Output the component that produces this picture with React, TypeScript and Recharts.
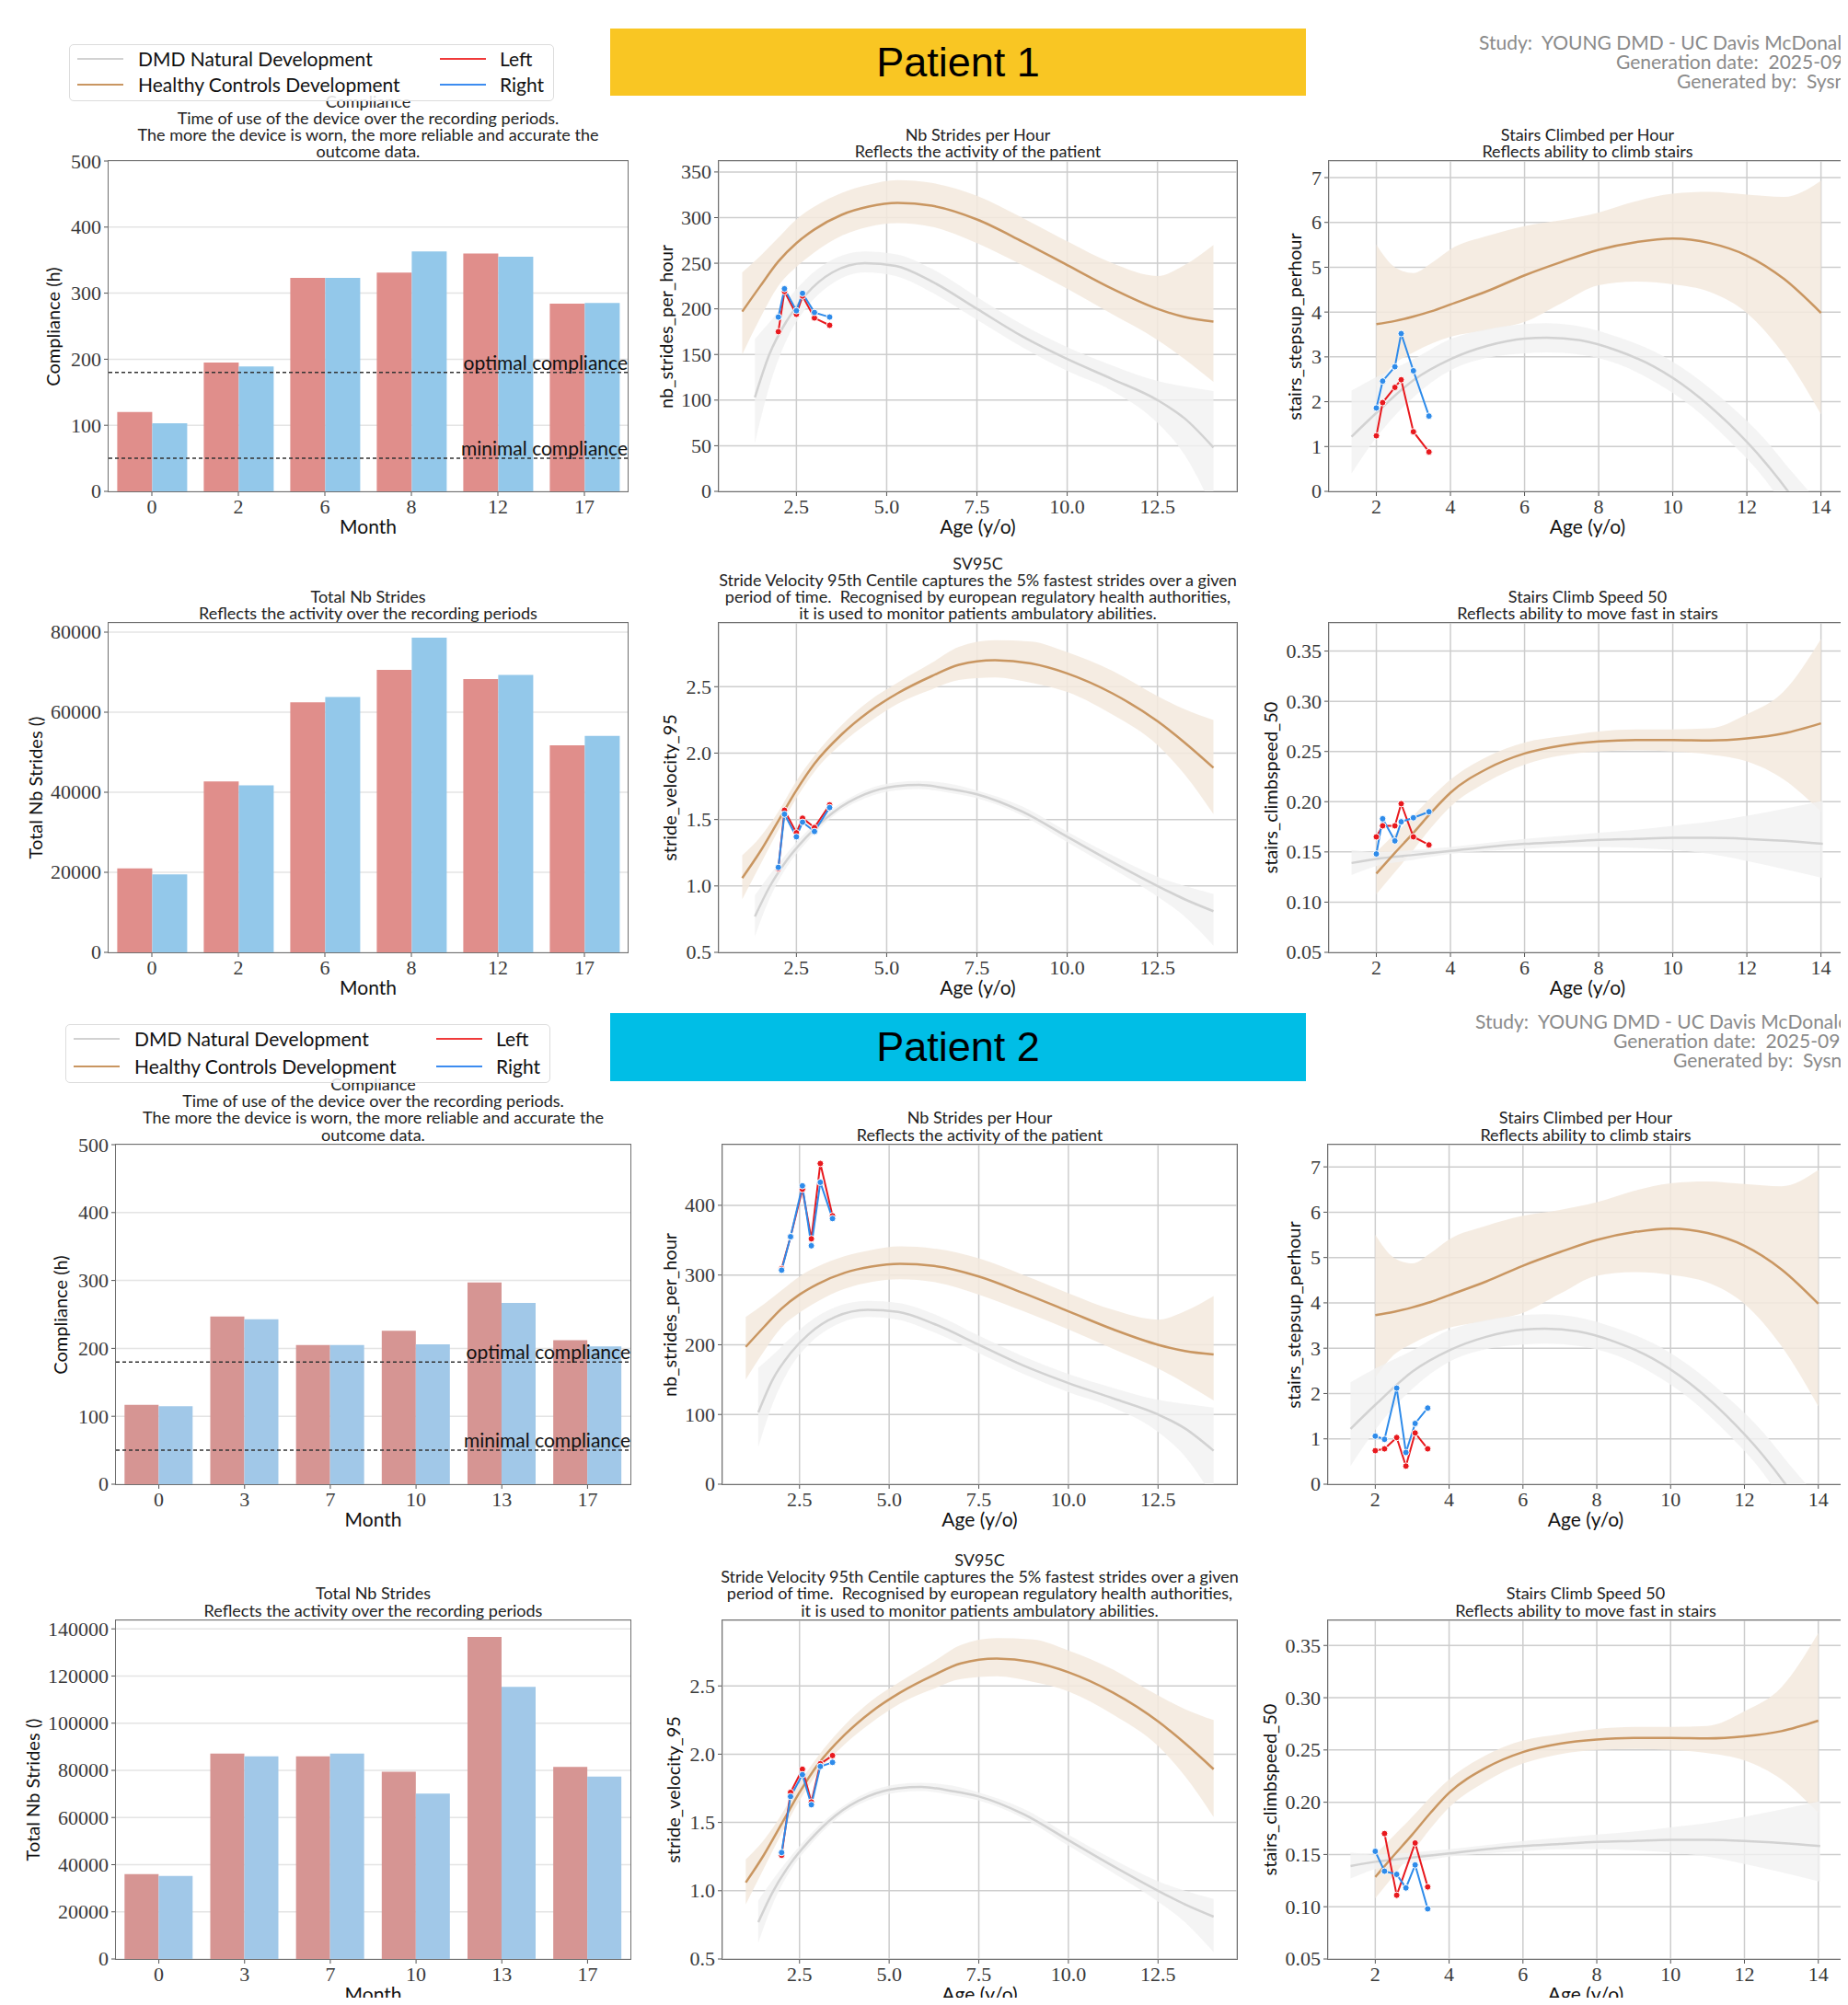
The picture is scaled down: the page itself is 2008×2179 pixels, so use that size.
import {
  BarChart, Bar, ComposedChart, Area, Line, XAxis, YAxis,
  CartesianGrid, ReferenceLine,
} from 'recharts';

const SANS = 'Lato, "Noto Sans", sans-serif';
const SERIF = '"Liberation Serif", "DejaVu Serif", serif';

// ---------------- bar data ----------------
const MONTHS_P1 = ['0', '2', '6', '8', '12', '17'];
const COMPLIANCE_P1_LEFT = [120, 195, 323, 331, 360, 284];
const COMPLIANCE_P1_RIGHT = [103, 189, 323, 363, 355, 285];
const STRIDES_P1_LEFT = [21000, 42700, 62500, 70600, 68300, 51700];
const STRIDES_P1_RIGHT = [19500, 41700, 63800, 78600, 69300, 54100];

const MONTHS_P2 = ['0', '3', '7', '10', '13', '17'];
const COMPLIANCE_P2_LEFT = [117, 247, 205, 226, 297, 212];
const COMPLIANCE_P2_RIGHT = [115, 243, 205, 206, 267, 203];
const STRIDES_P2_LEFT = [36000, 87100, 85900, 79400, 136600, 81500];
const STRIDES_P2_RIGHT = [35200, 85900, 87100, 70100, 115400, 77400];

const OPTIMAL_COMPLIANCE = 180;
const MINIMAL_COMPLIANCE = 50;

// ---------------- patient visits (age in years) ----------------
const AGES_P1 = [2.0, 2.17, 2.5, 2.67, 3.0, 3.42];
const AGES_P2 = [2.0, 2.25, 2.58, 2.83, 3.08, 3.42];

const NBS_P1_LEFT = [175, 219, 194, 214, 190, 182];
const NBS_P1_RIGHT = [191, 222, 198, 217, 196, 191];
const STP_P1_LEFT = [1.24, 1.98, 2.32, 2.49, 1.33, 0.88];
const STP_P1_RIGHT = [1.86, 2.46, 2.78, 3.52, 2.69, 1.68];
const SV_P1_LEFT = [1.13, 1.57, 1.40, 1.51, 1.44, 1.61];
const SV_P1_RIGHT = [1.14, 1.54, 1.37, 1.48, 1.41, 1.59];
const CSP_P1_LEFT = [0.165, 0.176, 0.176, 0.198, 0.165, 0.157];
const CSP_P1_RIGHT = [0.148, 0.183, 0.161, 0.180, 0.184, 0.190];

const NBS_P2_LEFT = [309, 355, 423, 352, 460, 385];
const NBS_P2_RIGHT = [307, 355, 428, 342, 433, 381];
const STP_P2_LEFT = [0.74, 0.78, 1.03, 0.40, 1.13, 0.78];
const STP_P2_RIGHT = [1.06, 0.99, 2.12, 0.70, 1.34, 1.68];
const SV_P2_LEFT = [1.26, 1.72, 1.89, 1.65, 1.93, 1.99];
const SV_P2_RIGHT = [1.28, 1.69, 1.85, 1.63, 1.91, 1.94];
const CSP_P2_LEFT = [null, 0.170, 0.111, null, 0.161, 0.119];
const CSP_P2_RIGHT = [0.153, 0.134, 0.131, 0.118, 0.140, 0.098];

// ---------------- reference curves ----------------
// nb strides per hour
const HC_AGE_NBS = [1.0, 1.5, 2.0, 2.5, 3.0, 3.75, 4.5, 5.3, 6.25, 7.5, 8.75, 10.0, 11.25, 12.5, 13.25, 14.05];
const HC_NBS = [197, 225, 252, 272, 287, 303, 312, 316, 313, 298, 274, 248, 222, 200, 191, 186];
const HC_NBS_LO = [150, 190, 225, 246, 262, 280, 290, 294, 290, 272, 248, 222, 194, 166, 145, 120];
const HC_NBS_HI = [240, 258, 278, 298, 312, 327, 336, 341, 338, 324, 300, 274, 250, 236, 248, 270];
const DMD_AGE_NBS = [1.35, 1.75, 2.25, 2.75, 3.5, 4.4, 5.25, 6.25, 7.5, 8.75, 10.0, 11.25, 12.5, 13.25, 14.05];
const DMD_NBS = [103, 150, 188, 215, 240, 250, 247, 230, 200, 170, 145, 123, 100, 80, 48];
const DMD_NBS_LO = [53, 115, 168, 200, 228, 240, 236, 218, 188, 158, 132, 110, 75, 40, -20];
const DMD_NBS_HI = [167, 185, 210, 232, 254, 263, 260, 244, 213, 183, 158, 138, 121, 115, 110];

// stride velocity 95
const HC_AGE_SV = [1.0, 1.5, 2.0, 2.5, 3.0, 3.75, 4.5, 5.3, 6.25, 7.0, 8.0, 9.0, 10.0, 11.25, 12.5, 13.25, 14.05];
const HC_SV = [1.06, 1.26, 1.49, 1.72, 1.92, 2.14, 2.31, 2.45, 2.58, 2.665, 2.70, 2.675, 2.60, 2.45, 2.24, 2.08, 1.89];
const HC_SV_LO = [0.90, 1.16, 1.42, 1.66, 1.86, 2.07, 2.23, 2.37, 2.48, 2.55, 2.57, 2.53, 2.46, 2.29, 2.06, 1.84, 1.54];
const HC_SV_HI = [1.23, 1.37, 1.56, 1.79, 1.98, 2.21, 2.39, 2.53, 2.68, 2.80, 2.85, 2.84, 2.76, 2.62, 2.43, 2.33, 2.25];
const DMD_AGE_SV = [1.35, 1.75, 2.25, 2.75, 3.5, 4.4, 5.25, 5.9, 6.75, 7.5, 8.75, 10.0, 11.25, 12.5, 13.25, 14.05];
const DMD_SV = [0.77, 0.99, 1.20, 1.36, 1.55, 1.69, 1.75, 1.76, 1.73, 1.69, 1.56, 1.37, 1.18, 1.00, 0.90, 0.81];
const DMD_SV_LO = [0.62, 0.90, 1.15, 1.32, 1.52, 1.66, 1.72, 1.73, 1.70, 1.66, 1.53, 1.33, 1.13, 0.92, 0.77, 0.55];
const DMD_SV_HI = [0.93, 1.08, 1.25, 1.40, 1.58, 1.72, 1.78, 1.79, 1.77, 1.72, 1.60, 1.41, 1.23, 1.07, 1.00, 0.94];

// stairs climbed per hour
const HC_AGE_STP = [2.0, 2.5, 3.0, 3.5, 4.0, 5.0, 6.0, 7.0, 8.0, 9.0, 10.0, 11.0, 12.0, 13.0, 14.0];
const HC_STP = [3.73, 3.80, 3.90, 4.02, 4.17, 4.47, 4.82, 5.12, 5.39, 5.56, 5.64, 5.54, 5.26, 4.74, 3.98];
const HC_STP_LO = [2.35, 2.85, 3.10, 3.30, 3.45, 3.60, 3.78, 4.20, 4.60, 4.68, 4.62, 4.45, 3.98, 3.05, 1.72];
const HC_STP_HI = [5.50, 5.00, 4.87, 5.10, 5.40, 5.70, 5.92, 6.05, 6.22, 6.47, 6.64, 6.68, 6.62, 6.57, 6.93];
const DMD_AGE_STP = [1.33, 2.0, 3.0, 4.0, 5.0, 6.0, 6.6, 7.5, 8.5, 9.5, 10.5, 11.5, 12.5, 13.2, 14.0];
const DMD_STP = [1.22, 1.75, 2.48, 2.95, 3.25, 3.41, 3.43, 3.37, 3.14, 2.78, 2.24, 1.52, 0.64, -0.1, -1.1];
const DMD_STP_LO = [0.40, 1.20, 2.10, 2.70, 2.98, 3.08, 3.10, 3.05, 2.85, 2.45, 1.90, 1.15, 0.25, -0.6, -1.8];
const DMD_STP_HI = [2.25, 2.55, 2.95, 3.40, 3.62, 3.73, 3.75, 3.68, 3.45, 3.12, 2.62, 1.95, 1.15, 0.45, -0.3];

// stairs climb speed 50
const HC_AGE_CSP = [2.0, 2.5, 3.0, 3.5, 4.0, 5.0, 6.0, 7.0, 8.0, 9.0, 10.0, 11.0, 12.0, 13.0, 14.0];
const HC_CSP = [0.1285, 0.149, 0.169, 0.190, 0.209, 0.233, 0.248, 0.256, 0.260, 0.2615, 0.2615, 0.261, 0.263, 0.268, 0.278];
const HC_CSP_LO = [0.108, 0.130, 0.152, 0.175, 0.195, 0.220, 0.237, 0.246, 0.250, 0.251, 0.250, 0.247, 0.240, 0.222, 0.190];
const HC_CSP_HI = [0.150, 0.168, 0.186, 0.205, 0.222, 0.245, 0.259, 0.265, 0.270, 0.272, 0.272, 0.273, 0.287, 0.310, 0.362];
const DMD_AGE_CSP = [1.33, 2, 3, 4, 5, 6, 7, 8, 9, 10, 11, 12, 13, 14.05];
const DMD_CSP = [0.139, 0.143, 0.147, 0.151, 0.155, 0.158, 0.160, 0.162, 0.163, 0.164, 0.164, 0.163, 0.161, 0.158];
const DMD_CSP_LO = [0.127, 0.136, 0.142, 0.148, 0.151, 0.153, 0.155, 0.155, 0.154, 0.152, 0.148, 0.141, 0.133, 0.124];
const DMD_CSP_HI = [0.152, 0.150, 0.152, 0.155, 0.159, 0.163, 0.166, 0.169, 0.172, 0.176, 0.180, 0.186, 0.193, 0.201];

// ---------------- axes ----------------
const WALK_X_DOMAIN = [0.35, 14.7];
const WALK_X_TICKS = [2.5, 5, 7.5, 10, 12.5];
const STAIRS_X_DOMAIN = [0.72, 14.68];
const STAIRS_X_TICKS = [2, 4, 6, 8, 10, 12, 14];
const COMPLIANCE_TICKS = [0, 100, 200, 300, 400, 500];
const STRIDES_P1_TICKS = [0, 20000, 40000, 60000, 80000];
const STRIDES_P2_TICKS = [0, 20000, 40000, 60000, 80000, 100000, 120000, 140000];
const NBS_P1_TICKS = [0, 50, 100, 150, 200, 250, 300, 350];
const NBS_P2_TICKS = [0, 100, 200, 300, 400];
const STP_TICKS = [0, 1, 2, 3, 4, 5, 6, 7];
const SV_TICKS = [0.5, 1.0, 1.5, 2.0, 2.5];
const CSP_TICKS = [0.05, 0.10, 0.15, 0.20, 0.25, 0.30, 0.35];

// ---------------- text ----------------
const T_COMPLIANCE = ['Compliance', 'Time of use of the device over the recording periods.', 'The more the device is worn, the more reliable and accurate the', 'outcome data.'];
const T_STRIDES = ['Total Nb Strides', 'Reflects the activity over the recording periods'];
const T_NBS = ['Nb Strides per Hour', 'Reflects the activity of the patient'];
const T_STP = ['Stairs Climbed per Hour', 'Reflects ability to climb stairs'];
const T_SV = ['SV95C', 'Stride Velocity 95th Centile captures the 5% fastest strides over a given', 'period of time.  Recognised by european regulatory health authorities,', 'it is used to monitor patients ambulatory abilities.'];
const T_CSP = ['Stairs Climb Speed 50', 'Reflects ability to move fast in stairs'];
const STUDY_LINES = ['Study:  YOUNG DMD - UC Davis McDonald', 'Generation date:  2025-09-11', 'Generated by:  Sysnav'];

const HC_LINE = '#C99661';
const HC_FILL = '#F3E9DD';
const DMD_LINE = '#D2D2D2';
const DMD_FILL = '#F1F1F1';
const LEFT_C = '#E8191E';
const RIGHT_C = '#2E8BEA';

const PAD_L = 140, PAD_R = 8, PAD_T = 8, PAD_B = 50;

// serif tick labels (matplotlib's computer-modern look)
const serifTick = (axis: 'x' | 'y', fmt: (v: any) => string) => (props: any) => (
  <text x={props.x} y={props.y} textAnchor={axis === 'x' ? 'middle' : 'end'}
    dy={axis === 'x' ? '0.78em' : '0.34em'} fontSize={22} fill="#3a3a3a"
    style={{ fontFamily: SERIF }}>{fmt(props.payload.value)}</text>
);

const curve = (age: number[], mid: number[], lo: number[], hi: number[]) =>
  age.map((a, i) => ({ age: a, mid: mid[i], band: [lo[i], hi[i]] }));

function Title({ x, y, w, lines, lineH }: any) {
  return (
    <div style={{ position: 'absolute', left: x - 150, width: w + 300, top: y - 2 - lines.length * lineH,
      lineHeight: lineH + 'px', fontSize: 18, textAlign: 'center', color: '#222', whiteSpace: 'pre' }}>
      {lines.map((l: string, i: number) => <div key={i}>{l}</div>)}
    </div>
  );
}

function Frame({ x, y, w, h }: any) {
  return <div style={{ position: 'absolute', left: x - 1, top: y - 1, width: w + 2, height: h + 2,
    border: '1.5px solid #707070', boxSizing: 'border-box', pointerEvents: 'none' }} />;
}

function YLabel({ cx, cy, text }: any) {
  return (
    <div style={{ position: 'absolute', left: cx, top: cy, transform: 'translate(-50%,-50%) rotate(-90deg)',
      whiteSpace: 'nowrap', fontSize: 20, color: '#111' }}>{text}</div>
  );
}

function XLabel({ cx, top, text }: any) {
  return (
    <div style={{ position: 'absolute', left: cx - 100, width: 200, top, textAlign: 'center',
      fontSize: 21, lineHeight: '24px', color: '#111' }}>{text}</div>
  );
}

function RefLabel({ viewBox, text }: any) {
  if (!viewBox) return null;
  return (
    <text x={viewBox.x + viewBox.width} y={viewBox.y - 3} textAnchor="end"
      fontSize={21} style={{ fontFamily: SANS }} fill="#111">{text}</text>
  );
}

function BarPanel({ x, y, w, h, months, left, right, yMax, yTicks, yLabel, yLabelOff, title, lineH, colors, refs }: any) {
  const data = months.map((m: string, i: number) => ({ month: m, left: left[i], right: right[i] }));
  return (
    <>
      <Title x={x} y={y} w={w} lines={title} lineH={lineH} />
      <div style={{ position: 'absolute', left: x - PAD_L, top: y - PAD_T }}>
        <BarChart width={w + PAD_L + PAD_R} height={h + PAD_T + PAD_B} data={data}
          margin={{ top: PAD_T, right: PAD_R, left: 0, bottom: 0 }} barCategoryGap="10%" barGap={0}>
          <CartesianGrid vertical={false} stroke="#e4e4e4" strokeWidth={1.5} />
          <XAxis dataKey="month" height={PAD_B} tick={serifTick('x', String)} tickSize={5} tickMargin={2}
            tickLine={{ stroke: '#555' }} axisLine={false} />
          <YAxis type="number" domain={[0, yMax]} ticks={yTicks} width={PAD_L} allowDataOverflow
            tick={serifTick('y', String)} tickSize={5} tickMargin={3} tickLine={{ stroke: '#555' }} axisLine={false} />
          <Bar dataKey="left" fill={colors[0]} isAnimationActive={false} />
          <Bar dataKey="right" fill={colors[1]} isAnimationActive={false} />
          {refs && refs.map((r: any) => (
            <ReferenceLine key={r.label} y={r.y} stroke="#333" strokeWidth={1.5} strokeDasharray="4 3"
              label={(p: any) => <RefLabel viewBox={p.viewBox} text={r.label} />} />
          ))}
        </BarChart>
      </div>
      <Frame x={x} y={y} w={w} h={h} />
      <XLabel cx={x + w / 2} top={y + h + 26} text="Month" />
      <YLabel cx={x - yLabelOff} cy={y + h / 2} text={yLabel} />
    </>
  );
}

function TrendPanel({ x, y, w, h, hc, dmd, ages, left, right, xDomain, xTicks, xFmt, yDomain, yTicks, yFmt, yLabel, yLabelOff, title, lineH }: any) {
  const pts = ages.map((a: number, i: number) => ({ age: a, left: left[i], right: right[i] }));
  const dotL = { r: 3.5, fill: LEFT_C, stroke: '#fff', strokeWidth: 1 };
  const dotR = { r: 3.5, fill: RIGHT_C, stroke: '#fff', strokeWidth: 1 };
  return (
    <>
      <Title x={x} y={y} w={w} lines={title} lineH={lineH} />
      <div style={{ position: 'absolute', left: x - PAD_L, top: y - PAD_T }}>
        <ComposedChart width={w + PAD_L + PAD_R} height={h + PAD_T + PAD_B}
          margin={{ top: PAD_T, right: PAD_R, left: 0, bottom: 0 }}>
          <CartesianGrid stroke="#cdcdcd" strokeWidth={1.5} />
          <XAxis type="number" dataKey="age" domain={xDomain} ticks={xTicks} allowDataOverflow
            height={PAD_B} tick={serifTick('x', xFmt)} tickSize={5} tickMargin={2}
            tickLine={{ stroke: '#555' }} axisLine={false} />
          <YAxis type="number" domain={yDomain} ticks={yTicks} allowDataOverflow
            width={PAD_L} tick={serifTick('y', yFmt)} tickSize={5} tickMargin={3} tickLine={{ stroke: '#555' }} axisLine={false} />
          <Area data={hc} dataKey="band" type="monotone" fill={HC_FILL} fillOpacity={0.85} stroke="none" isAnimationActive={false} />
          <Area data={dmd} dataKey="band" type="monotone" fill={DMD_FILL} fillOpacity={0.8} stroke="none" isAnimationActive={false} />
          <Line data={dmd} dataKey="mid" type="monotone" stroke={DMD_LINE} strokeWidth={2.5} dot={false} isAnimationActive={false} />
          <Line data={hc} dataKey="mid" type="monotone" stroke={HC_LINE} strokeWidth={2.5} dot={false} isAnimationActive={false} />
          <Line data={pts} dataKey="left" type="linear" stroke={LEFT_C} strokeWidth={2} dot={dotL} connectNulls isAnimationActive={false} />
          <Line data={pts} dataKey="right" type="linear" stroke={RIGHT_C} strokeWidth={2} dot={dotR} connectNulls isAnimationActive={false} />
        </ComposedChart>
      </div>
      <Frame x={x} y={y} w={w} h={h} />
      <XLabel cx={x + w / 2} top={y + h + 26} text="Age (y/o)" />
      <YLabel cx={x - yLabelOff} cy={y + h / 2} text={yLabel} />
    </>
  );
}

function Legend({ x, y, w, h }: any) {
  const items = [
    { label: 'DMD Natural Development', color: DMD_LINE, col: 0, row: 0 },
    { label: 'Healthy Controls Development', color: HC_LINE, col: 0, row: 1 },
    { label: 'Left', color: '#F03A3A', col: 1, row: 0 },
    { label: 'Right', color: '#3C8CF0', col: 1, row: 1 },
  ];
  return (
    <div style={{ position: 'absolute', left: x, top: y, width: w, height: h, border: '1.5px solid #dcdcdc',
      borderRadius: 5, background: 'rgba(255,255,255,0.85)', boxSizing: 'border-box' }}>
      {items.map((it) => {
        const cy = h * (it.row === 0 ? 0.24 : 0.70);
        const lx = it.col === 0 ? 8 : 402;
        const tx = it.col === 0 ? 74 : 467;
        return (
          <div key={it.label}>
            <div style={{ position: 'absolute', left: lx, width: 50, top: cy - 1, height: 2, background: it.color }} />
            <div style={{ position: 'absolute', left: tx, top: cy - 12, lineHeight: '24px', fontSize: 21, color: '#111', whiteSpace: 'nowrap' }}>{it.label}</div>
          </div>
        );
      })}
    </div>
  );
}

const HC_NBS_CURVE = curve(HC_AGE_NBS, HC_NBS, HC_NBS_LO, HC_NBS_HI);
const DMD_NBS_CURVE = curve(DMD_AGE_NBS, DMD_NBS, DMD_NBS_LO, DMD_NBS_HI);
const HC_SV_CURVE = curve(HC_AGE_SV, HC_SV, HC_SV_LO, HC_SV_HI);
const DMD_SV_CURVE = curve(DMD_AGE_SV, DMD_SV, DMD_SV_LO, DMD_SV_HI);
const HC_STP_CURVE = curve(HC_AGE_STP, HC_STP, HC_STP_LO, HC_STP_HI);
const DMD_STP_CURVE = curve(DMD_AGE_STP, DMD_STP, DMD_STP_LO, DMD_STP_HI);
const HC_CSP_CURVE = curve(HC_AGE_CSP, HC_CSP, HC_CSP_LO, HC_CSP_HI);
const DMD_CSP_CURVE = curve(DMD_AGE_CSP, DMD_CSP, DMD_CSP_LO, DMD_CSP_HI);

const fx1 = (v: number) => v.toFixed(1);
const fx0 = (v: number) => String(v);
const fy2 = (v: number) => v.toFixed(2);

const PATIENTS = [
  {
    name: 'Patient 1', bannerColor: '#F9C623',
    legend: { x: 75, y: 48, w: 527, h: 62 }, banner: { x: 663, y: 31, w: 756, h: 73 },
    study: { x: [1607, 1756, 1822], y: [46, 67, 88] },
    c1: { x: 118, w: 564 }, c2: { x: 781, w: 563 }, c3: { x: 1444, w: 562 },
    r1: { y: 175, h: 359 }, r2: { y: 677, h: 358 }, lineH: 18,
    months: MONTHS_P1, compL: COMPLIANCE_P1_LEFT, compR: COMPLIANCE_P1_RIGHT,
    strL: STRIDES_P1_LEFT, strR: STRIDES_P1_RIGHT, strMax: 82300, strTicks: STRIDES_P1_TICKS, strOff: 80,
    barColors: ['#E08E8B', '#93C8EA'], ages: AGES_P1,
    nbsL: NBS_P1_LEFT, nbsR: NBS_P1_RIGHT, nbsDomain: [0, 362], nbsTicks: NBS_P1_TICKS,
    stpL: STP_P1_LEFT, stpR: STP_P1_RIGHT, stpDomain: [0, 7.37],
    svL: SV_P1_LEFT, svR: SV_P1_RIGHT,
    cspL: CSP_P1_LEFT, cspR: CSP_P1_RIGHT, cspDomain: [0.05, 0.378],
  },
  {
    name: 'Patient 2', bannerColor: '#00BEE6',
    legend: { x: 71, y: 1113, w: 527, h: 64 }, banner: { x: 663, y: 1101, w: 756, h: 74 },
    study: { x: [1603, 1753, 1818], y: [1110, 1131, 1152] },
    c1: { x: 126, w: 559 }, c2: { x: 785, w: 559 }, c3: { x: 1443, w: 560 },
    r1: { y: 1244, h: 369 }, r2: { y: 1761, h: 368 }, lineH: 18.3,
    months: MONTHS_P2, compL: COMPLIANCE_P2_LEFT, compR: COMPLIANCE_P2_RIGHT,
    strL: STRIDES_P2_LEFT, strR: STRIDES_P2_RIGHT, strMax: 143600, strTicks: STRIDES_P2_TICKS, strOff: 91,
    barColors: ['#D69593', '#A1C8E8'], ages: AGES_P2,
    nbsL: NBS_P2_LEFT, nbsR: NBS_P2_RIGHT, nbsDomain: [0, 487], nbsTicks: NBS_P2_TICKS,
    stpL: STP_P2_LEFT, stpR: STP_P2_RIGHT, stpDomain: [0, 7.49],
    svL: SV_P2_LEFT, svR: SV_P2_RIGHT,
    cspL: CSP_P2_LEFT, cspR: CSP_P2_RIGHT, cspDomain: [0.05, 0.374],
  },
];

function PatientBlock({ p }: any) {
  const { c1, c2, c3, r1, r2, lineH } = p;
  return (
    <>
      <div style={{ position: 'absolute', left: p.banner.x, top: p.banner.y, width: p.banner.w, height: p.banner.h,
        background: p.bannerColor, display: 'flex', alignItems: 'center', justifyContent: 'center',
        fontFamily: '"Liberation Sans", Arial, sans-serif', fontSize: 45, color: '#000' }}>{p.name}</div>
      {STUDY_LINES.map((s, i) => (
        <div key={i} style={{ position: 'absolute', left: p.study.x[i], top: p.study.y[i] - 11, lineHeight: '22px',
          fontSize: 21, color: '#8a8a8a', whiteSpace: 'pre' }}>{s}</div>
      ))}
      <BarPanel x={c1.x} y={r1.y} w={c1.w} h={r1.h} months={p.months} left={p.compL} right={p.compR}
        yMax={500} yTicks={COMPLIANCE_TICKS} yLabel="Compliance (h)" yLabelOff={61} title={T_COMPLIANCE} lineH={lineH}
        colors={p.barColors}
        refs={[{ y: OPTIMAL_COMPLIANCE, label: 'optimal  compliance' }, { y: MINIMAL_COMPLIANCE, label: 'minimal  compliance' }]} />
      <BarPanel x={c1.x} y={r2.y} w={c1.w} h={r2.h} months={p.months} left={p.strL} right={p.strR}
        yMax={p.strMax} yTicks={p.strTicks} yLabel="Total Nb Strides ()" yLabelOff={p.strOff} title={T_STRIDES} lineH={lineH}
        colors={p.barColors} />
      <TrendPanel x={c2.x} y={r1.y} w={c2.w} h={r1.h} hc={HC_NBS_CURVE} dmd={DMD_NBS_CURVE} ages={p.ages}
        left={p.nbsL} right={p.nbsR} xDomain={WALK_X_DOMAIN} xTicks={WALK_X_TICKS} xFmt={fx1}
        yDomain={p.nbsDomain} yTicks={p.nbsTicks} yFmt={fx0} yLabel="nb_strides_per_hour" yLabelOff={58}
        title={T_NBS} lineH={lineH} />
      <TrendPanel x={c3.x} y={r1.y} w={c3.w} h={r1.h} hc={HC_STP_CURVE} dmd={DMD_STP_CURVE} ages={p.ages}
        left={p.stpL} right={p.stpR} xDomain={STAIRS_X_DOMAIN} xTicks={STAIRS_X_TICKS} xFmt={fx0}
        yDomain={p.stpDomain} yTicks={STP_TICKS} yFmt={fx0} yLabel="stairs_stepsup_perhour" yLabelOff={38}
        title={T_STP} lineH={lineH} />
      <TrendPanel x={c2.x} y={r2.y} w={c2.w} h={r2.h} hc={HC_SV_CURVE} dmd={DMD_SV_CURVE} ages={p.ages}
        left={p.svL} right={p.svR} xDomain={WALK_X_DOMAIN} xTicks={WALK_X_TICKS} xFmt={fx1}
        yDomain={[0.5, 2.98]} yTicks={SV_TICKS} yFmt={fx1} yLabel="stride_velocity_95" yLabelOff={54}
        title={T_SV} lineH={lineH} />
      <TrendPanel x={c3.x} y={r2.y} w={c3.w} h={r2.h} hc={HC_CSP_CURVE} dmd={DMD_CSP_CURVE} ages={p.ages}
        left={p.cspL} right={p.cspR} xDomain={STAIRS_X_DOMAIN} xTicks={STAIRS_X_TICKS} xFmt={fx0}
        yDomain={p.cspDomain} yTicks={CSP_TICKS} yFmt={fy2} yLabel="stairs_climbspeed_50" yLabelOff={64}
        title={T_CSP} lineH={lineH} />
      <Legend {...p.legend} />
    </>
  );
}

export default function App() {
  return (
    <div style={{ position: 'relative', width: 2008, height: 2179, margin: -8, overflow: 'hidden',
      background: '#fff', fontFamily: SANS }}>
      {PATIENTS.map((p) => <PatientBlock key={p.name} p={p} />)}
    </div>
  );
}
